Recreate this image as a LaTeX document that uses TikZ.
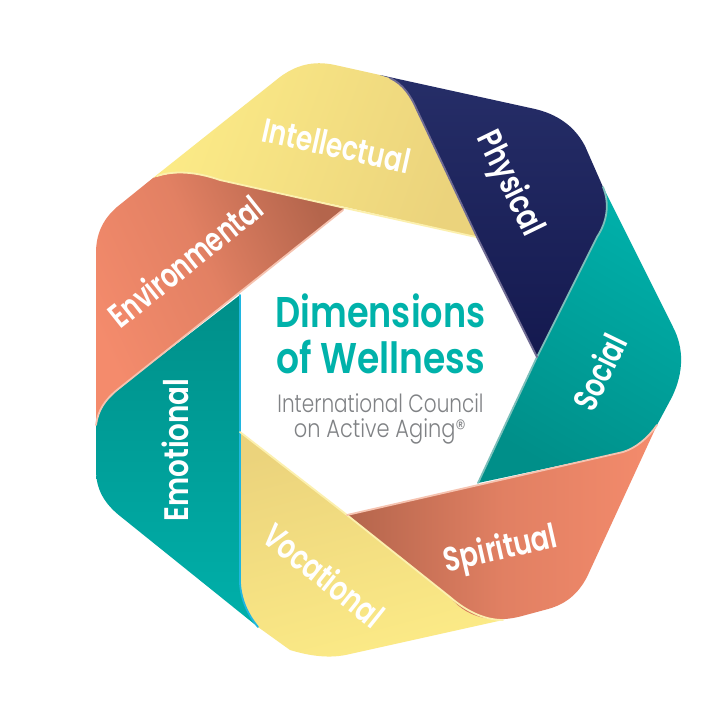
\documentclass[tikz,border=0pt]{standalone}
\usepackage{fontspec}
\usepackage{graphicx}
\setmainfont{Poppins}[UprightFont=* SemiBold]
\newfontfamily\lightfont{Poppins}[UprightFont=* Light]
\definecolor{navyTop}{HTML}{262E68}
\definecolor{navyBot}{HTML}{14194F}
\definecolor{tealLite}{HTML}{00B0AA}
\definecolor{tealDark}{HTML}{008F89}
\definecolor{coralLite}{HTML}{F48B6C}
\definecolor{coralDark}{HTML}{B4654C}
\definecolor{yelLite}{HTML}{FCEB87}
\definecolor{yelDark}{HTML}{EBD37C}
\definecolor{titleTeal}{HTML}{00B2AA}
\definecolor{subGray}{HTML}{808285}
\definecolor{edgeNavy}{HTML}{6F6B93}
\definecolor{edgeTeal}{HTML}{7CBFBA}
\definecolor{edgeCyan}{HTML}{1FB6E0}
\definecolor{edgeYel}{HTML}{FCF0AE}
\definecolor{edgeCoral}{HTML}{F6C3B0}
\tikzset{
  band/.style={shade, shading=axis},
  rim/.style={line width=1.8pt, line join=round, line cap=round},
  dimlabel/.style={text=white, anchor=base, inner sep=0pt, font=\fontsize{34}{34}\selectfont},
  titlelabel/.style={text=titleTeal, anchor=base, inner sep=0pt, font=\fontsize{43}{43}\selectfont},
  sublabel/.style={text=subGray, anchor=base, inner sep=0pt, font=\lightfont\fontsize{25}{25}\selectfont},
}
\newcommand{\fitw}[2]{\resizebox{#1pt}{\height}{#2}}
\begin{document}
\begin{tikzpicture}[x=1pt,y=-1pt]
\useasboundingbox (0,0) rectangle (715,724);
\fill[white] (0,0) rectangle (715,724);
% Intellectual
\path[band, left color=yelLite, right color=yelDark, shading angle=70]
  (153,178) -- (280,77) .. controls (295,66) and (312,60) .. (335,65) -- (380,75)
  -- (390,78) .. controls (403,84) and (411,96) .. (417,110) -- (477,237)
  -- (345,207) -- (220,180) .. controls (197,172) and (175,170) .. (153,178) -- cycle;
% Environmental
\path[band, left color=coralLite, right color=coralDark, middle color=coralLite!72!coralDark, shading angle=115]
  (153,178) .. controls (175,170) and (197,172) .. (220,180) -- (345,208)
  -- (117,390) .. controls (105,400) and (98,410) .. (96,425)
  -- (96,253) .. controls (96,235) and (102,220) .. (117,207) -- cycle;
% Emotional
\path[band, left color=tealLite, right color=tealDark, shading angle=180]
  (240,295) -- (240,583) .. controls (241,600) and (248,615) .. (258,627)
  -- (120,516) .. controls (105,504) and (96,490) .. (96,470)
  -- (96,425) .. controls (98,410) and (105,400) .. (117,390) -- cycle;
% Vocational
\path[band, left color=yelDark, right color=yelLite, shading angle=15]
  (240,432) -- (347,515) -- (450,597) .. controls (465,610) and (483,620) .. (503,620)
  -- (350,654) .. controls (330,659) and (310,656) .. (290,650) -- (258,627)
  .. controls (248,615) and (241,600) .. (240,583) -- cycle;
% Spiritual
\path[band, left color=coralDark, right color=coralLite, middle color=coralLite!70!coralDark, shading angle=90]
  (347,515) -- (623,452) .. controls (636,448) and (648,438) .. (657,425)
  -- (587,577) .. controls (578,594) and (566,604) .. (548,609) -- (522,616)
  .. controls (500,622) and (470,622) .. (450,597) -- cycle;
% Social
\path[band, left color=tealDark, right color=tealLite, shading angle=150]
  (603,187) -- (673,327) .. controls (684,348) and (684,372) .. (672,397) -- (657,425)
  .. controls (648,438) and (636,448) .. (623,452) -- (478,483)
  -- (537,357) -- (597,237) .. controls (607,222) and (610,204) .. (603,187) -- cycle;
% Physical
\path[band, left color=navyTop, right color=navyBot, shading angle=0]
  (380,75) -- (535,109) .. controls (556,114) and (574,125) .. (585,146) -- (603,187)
  .. controls (610,204) and (607,222) .. (597,237) -- (537,357) -- (477,237)
  -- (417,110) .. controls (411,96) and (403,84) .. (390,78) -- cycle;
% rims
\draw[rim, edgeYel] (157,176) .. controls (175,170) and (197,172) .. (220,180) -- (345,208) -- (476,237);
\draw[rim, edgeCoral] (343,210) -- (117,390) .. controls (105,400) and (98,410) .. (96,425);
\draw[rim, edgeCyan] (240,295) -- (240,583) .. controls (241,600) and (248,615) .. (258,627);
\draw[rim, edgeYel] (240,432) -- (347,515) -- (450,597) .. controls (465,610) and (483,620) .. (503,620);
\draw[rim, edgeCoral] (347,515) -- (623,452) .. controls (636,448) and (648,438) .. (657,425);
\draw[rim, edgeTeal] (603,187) .. controls (610,204) and (607,222) .. (597,237) -- (537,357) -- (478,483);
\draw[rim, edgeNavy] (390,78) .. controls (403,84) and (411,96) .. (417,110) -- (477,237) -- (537,357);
% labels
\node[dimlabel, rotate=-12.5] (intellectual) at (334,157.5) {\fitw{150}{Intellectual}};
\node[dimlabel, rotate=-64]   (physical)     at (501,188)   {\fitw{112}{Physical}};
\node[dimlabel, rotate=64]    (social)       at (611,378)   {\fitw{80}{Social}};
\node[dimlabel, rotate=12.8]  (spiritual)    at (503,559.5) {\fitw{115}{Spiritual}};
\node[dimlabel, rotate=-38.6] (vocational)   at (316,585)   {\fitw{143}{Vocational}};
\node[dimlabel, rotate=90]    (emotional)    at (188,450)   {\fitw{143}{Emotional}};
\node[dimlabel, rotate=38.6]  (environmental) at (193.5,271.5) {\fitw{186}{Environmental}};
% centre
\node[titlelabel] (title1) at (380.5,327) {\fitw{210}{Dimensions}};
\node[titlelabel] (title2) at (380.5,373) {\fitw{209}{of Wellness}};
\node[sublabel] (sub1) at (380.5,412) {\fitw{206}{International Council}};
\node[sublabel] (sub2) at (380,437) {\fitw{172}{on Active Aging®}};
\end{tikzpicture}
\end{document}
